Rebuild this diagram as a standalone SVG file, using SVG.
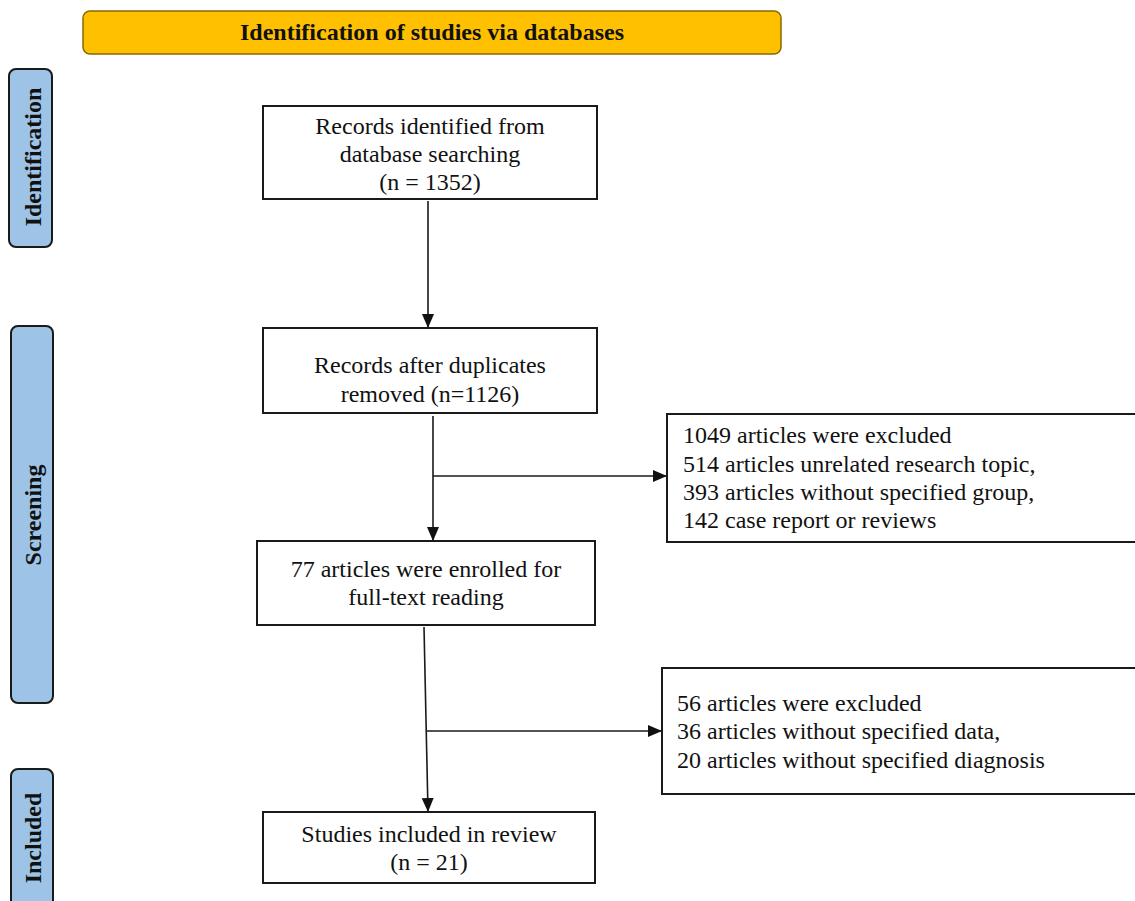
<svg xmlns="http://www.w3.org/2000/svg" width="1135" height="901" viewBox="0 0 1135 901">
<defs>
<style>
.box{fill:#ffffff;stroke:#1a1a1a;stroke-width:2}
.side{fill:#9DC3E6;stroke:#1a1a1a;stroke-width:2}
.hdr{fill:#FFC000;stroke:#8B6A00;stroke-width:1.5}
.t{font-family:"Liberation Serif","Times New Roman",serif;font-size:24px;fill:#111}
.c{text-anchor:middle}
.b{font-weight:bold}
.ln{stroke:#1a1a1a;stroke-width:1.6;fill:none}
</style>
<marker id="ah" markerUnits="userSpaceOnUse" markerWidth="14" markerHeight="14" viewBox="0 0 14 14" refX="14" refY="7" orient="auto">
<path d="M0,1 L14,7 L0,13 Z" fill="#111"/>
</marker>
</defs>
<rect width="1135" height="901" fill="#ffffff"/>

<g id="header">
<rect class="hdr" x="83" y="11" width="698" height="43" rx="7"/>
<text class="t c b" x="432" y="40">Identification of studies via databases</text>
</g>

<g id="phase-identification">
<rect class="side" x="9" y="69" width="43" height="178" rx="7"/>
<text class="t c b" transform="translate(41,157) rotate(-90)" x="0" y="0">Identification</text>
</g>
<g id="phase-screening">
<rect class="side" x="11" y="326" width="42" height="377" rx="7"/>
<text class="t c b" transform="translate(41,515) rotate(-90)" x="0" y="0">Screening</text>
</g>
<g id="phase-included">
<rect class="side" x="11" y="769" width="42" height="140" rx="7"/>
<text class="t c b" transform="translate(41,838) rotate(-90)" x="0" y="0">Included</text>
</g>

<g id="connectors">
<line class="ln" x1="428" y1="201" x2="428" y2="328" marker-end="url(#ah)"/>
<line class="ln" x1="433" y1="416" x2="433" y2="541" marker-end="url(#ah)"/>
<line class="ln" x1="433" y1="476" x2="667" y2="476" marker-end="url(#ah)"/>
<line class="ln" x1="424" y1="627" x2="428" y2="812" marker-end="url(#ah)"/>
<line class="ln" x1="427" y1="731" x2="662" y2="731" marker-end="url(#ah)"/>
</g>

<g id="records-identified">
<rect class="box" x="263" y="106" width="334" height="93"/>
<text class="t c" x="430" y="134">Records identified from</text>
<text class="t c" x="430" y="162">database searching</text>
<text class="t c" x="430" y="190">(n = 1352)</text>
</g>

<g id="records-deduplicated">
<rect class="box" x="263" y="328" width="334" height="85"/>
<text class="t c" x="430" y="373">Records after duplicates</text>
<text class="t c" x="430" y="402">removed (n=1126)</text>
</g>

<g id="excluded-screening">
<rect class="box" x="667" y="414" width="480" height="128"/>
<text class="t" x="683" y="443">1049 articles were excluded</text>
<text class="t" x="683" y="472">514 articles unrelated research topic,</text>
<text class="t" x="683" y="500">393 articles without specified group,</text>
<text class="t" x="683" y="528">142 case report or reviews</text>
</g>

<g id="full-text">
<rect class="box" x="257" y="541" width="338" height="84"/>
<text class="t c" x="426" y="577">77 articles were enrolled for</text>
<text class="t c" x="426" y="605">full-text reading</text>
</g>

<g id="excluded-fulltext">
<rect class="box" x="662" y="668" width="485" height="126"/>
<text class="t" x="677" y="711">56 articles were excluded</text>
<text class="t" x="677" y="739">36 articles without specified data,</text>
<text class="t" x="677" y="768">20 articles without specified diagnosis</text>
</g>

<g id="included-studies">
<rect class="box" x="263" y="812" width="332" height="71"/>
<text class="t c" x="429" y="842">Studies included in review</text>
<text class="t c" x="429" y="870">(n = 21)</text>
</g>
</svg>
